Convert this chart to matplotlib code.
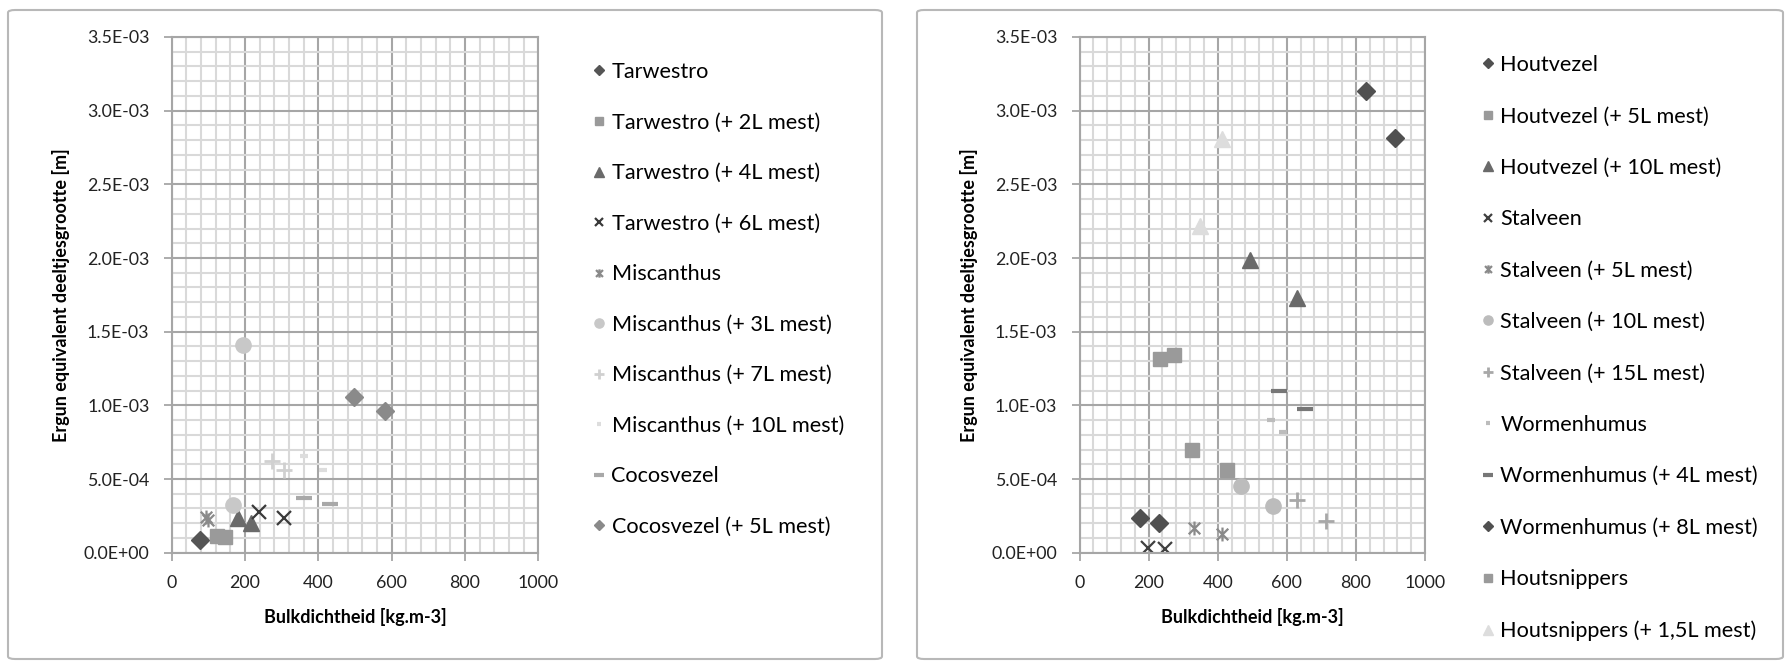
import numpy as np
import matplotlib
matplotlib.use('Agg')
import matplotlib.pyplot as plt
from matplotlib.path import Path
from matplotlib.patches import FancyBboxPatch
from matplotlib.ticker import MultipleLocator, FuncFormatter

plt.rcParams['font.family'] = ['Lato', 'DejaVu Sans']

# Linker grafiek
links_namen = ['Tarwestro', 'Tarwestro (+ 2L mest)', 'Tarwestro (+ 4L mest)',
               'Tarwestro (+ 6L mest)', 'Miscanthus', 'Miscanthus (+ 3L mest)',
               'Miscanthus (+ 7L mest)', 'Miscanthus (+ 10L mest)', 'Cocosvezel',
               'Cocosvezel (+ 5L mest)']
links_x = [[77], [123, 145], [182, 216], [239, 305], [93, 100], [168, 195],
           [273, 305], [361, 412], [362, 432], [497, 583]]
links_y = [[8.6e-5], [1.15e-4, 1.05e-4], [2.34e-4, 2.0e-4], [2.79e-4, 2.34e-4],
           [2.4e-4, 2.22e-4], [3.24e-4, 1.41e-3], [6.24e-4, 5.58e-4],
           [6.53e-4, 5.58e-4], [3.72e-4, 3.31e-4], [1.054e-3, 9.64e-4]]

# Rechter grafiek
rechts_namen = ['Houtvezel', 'Houtvezel (+ 5L mest)', 'Houtvezel (+ 10L mest)',
                'Stalveen', 'Stalveen (+ 5L mest)', 'Stalveen (+ 10L mest)',
                'Stalveen (+ 15L mest)', 'Wormenhumus', 'Wormenhumus (+ 4L mest)',
                'Wormenhumus (+ 8L mest)', 'Houtsnippers', 'Houtsnippers (+ 1,5L mest)']
rechts_x = [[828, 914], [234, 274], [492, 629], [199, 247], [331, 412], [468, 560],
            [629, 714], [553, 589], [577, 652], [176, 229], [326, 428], [412, 350]]
rechts_y = [[3.136e-3, 2.812e-3], [1.316e-3, 1.345e-3], [1.986e-3, 1.73e-3],
            [3.0e-5, 2.3e-5], [1.66e-4, 1.27e-4], [4.54e-4, 3.18e-4],
            [3.59e-4, 2.18e-4], [8.98e-4, 8.16e-4], [1.1e-3, 9.78e-4],
            [2.38e-4, 2.0e-4], [6.94e-4, 5.58e-4], [2.807e-3, 2.214e-3]]

# ster-marker (kruis met verticale lijn), zoals in Excel
ster = Path([(-1, -1), (1, 1), (-1, 1), (1, -1), (0, -1.2), (0, 1.2)],
            [Path.MOVETO, Path.LINETO, Path.MOVETO, Path.LINETO, Path.MOVETO, Path.LINETO])

# stijl per reeks: (marker, kleur, grootte, randbreedte)
links_stijl = [('D', '#555555', 9, 1), ('s', '#9a9a9a', 10, 1), ('^', '#6a6a6a', 11, 1),
               ('x', '#3a3a3a', 10, 1.6), (ster, '#8a8a8a', 10, 1.6), ('o', '#c8c8c8', 11, 1),
               ('+', '#d0d0d0', 11, 2), ('_', '#dddddd', 6, 3), ('_', '#a8a8a8', 12, 3),
               ('D', '#8a8a8a', 9, 1)]
rechts_stijl = [('D', '#505050', 9, 1), ('s', '#9a9a9a', 10, 1), ('^', '#6a6a6a', 11, 1),
                ('x', '#404040', 10, 1.6), (ster, '#8a8a8a', 10, 1.6), ('o', '#bcbcbc', 11, 1),
                ('+', '#a8a8a8', 11, 2), ('_', '#bcbcbc', 6, 3), ('_', '#777777', 12, 3),
                ('D', '#505050', 9, 1), ('s', '#9a9a9a', 10, 1), ('^', '#dddddd', 11, 1)]

W, H = 1786, 663
fig = plt.figure(figsize=(W / 100, H / 100), dpi=100)

# kaders rond de twee grafieken
for x0, x1 in [(8, 882), (917, 1783)]:
    fig.patches.append(FancyBboxPatch((x0 / W, 1 - 659 / H), (x1 - x0) / W, 649 / H,
                                      boxstyle='round,pad=0,rounding_size=0.004',
                                      transform=fig.transFigure, fill=False,
                                      edgecolor='#b8b8b8', linewidth=1.5))


def teken(ax, namen, xs, ys, stijl, leg_x, leg_y, spacing):
    for naam, x, y, (m, c, s, mew) in zip(namen, xs, ys, stijl):
        ax.plot(x, y, ls='none', marker=m, color=c, ms=s, mew=mew, label=naam)
    ax.set_xlim(0, 1000)
    ax.set_ylim(0, 3.5e-3)
    ax.xaxis.set_major_locator(MultipleLocator(200))
    ax.xaxis.set_minor_locator(MultipleLocator(40))
    ax.yaxis.set_major_locator(MultipleLocator(5e-4))
    ax.yaxis.set_minor_locator(MultipleLocator(1e-4))
    ax.yaxis.set_major_formatter(FuncFormatter(lambda v, p: f'{v:.1E}'))
    ax.grid(which='major', color='#a6a6a6', lw=1.5)
    ax.grid(which='minor', color='#d9d9d9', lw=1.5)
    ax.set_axisbelow(True)
    for sp in ax.spines.values():
        sp.set_color('#a6a6a6')
        sp.set_linewidth(1.5)
    ax.tick_params(which='major', length=6, color='#a6a6a6', width=1.3,
                   labelsize=12.8, labelcolor='#222222', pad=10)
    ax.tick_params(which='minor', length=0)
    ax.set_xlabel('Bulkdichtheid [kg.m-3]', fontsize=13, fontweight='bold', labelpad=12)
    ax.set_ylabel('Ergun equivalent deeltjesgrootte [m]', fontsize=13, fontweight='bold',
                  labelpad=10)
    ax.legend(loc='upper left', bbox_to_anchor=(leg_x / W, 1 - leg_y / H),
              bbox_transform=fig.transFigure, frameon=False, fontsize=15.6,
              handlelength=0.6, handletextpad=0.3, labelspacing=spacing,
              markerscale=0.6, borderpad=0, borderaxespad=0)


ax1 = fig.add_axes([171.7 / W, 110.3 / H, 366.6 / W, 515.7 / H])
teken(ax1, links_namen, links_x, links_y, links_stijl, 592, 62, 1.41)

ax2 = fig.add_axes([1079.6 / W, 110.3 / H, 345.4 / W, 515.7 / H])
teken(ax2, rechts_namen, rechts_x, rechts_y, rechts_stijl, 1481, 55, 1.45)

fig.savefig('out.png', dpi=100)
